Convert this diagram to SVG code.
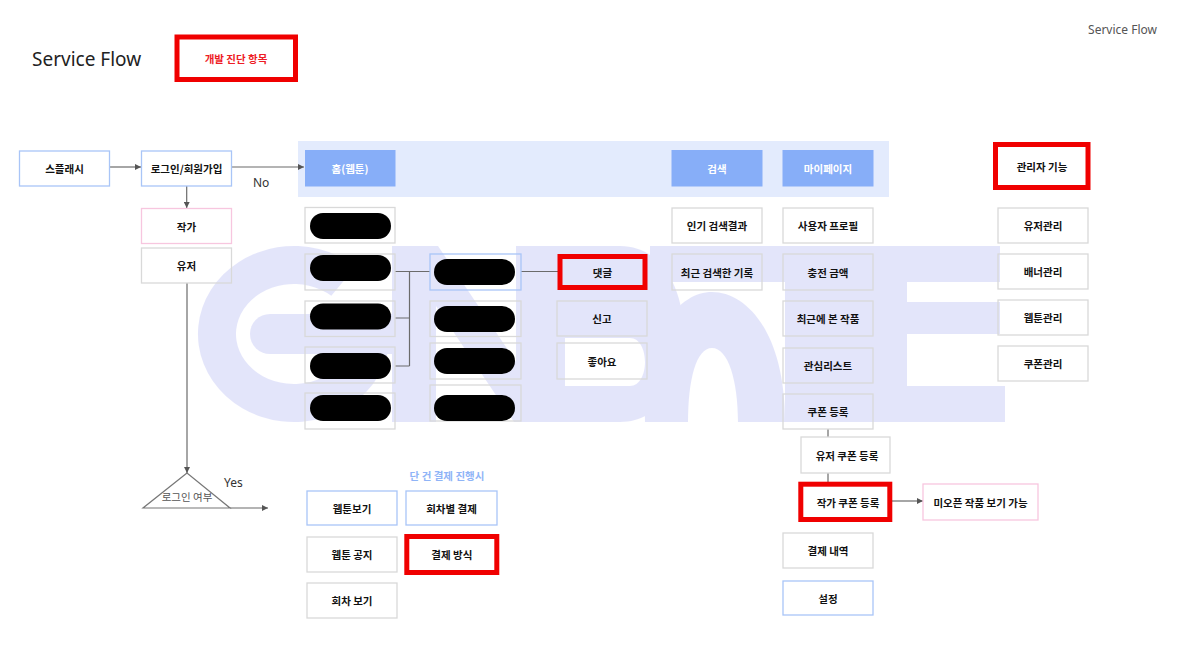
<svg xmlns="http://www.w3.org/2000/svg" width="1200" height="659" viewBox="0 0 1200 659">
<defs>
<style>
.box{fill:none;stroke:#d9d9d9;stroke-width:1.3}
.blue{stroke:#a9c5f7}
.pink{stroke:#f7c6df}
.red{fill:none;stroke:#f00000;stroke-width:5}
.t{font-family:"Noto Sans CJK KR","Noto Sans",sans-serif;font-size:10.5px;font-weight:700;fill:#111111;text-anchor:middle;dominant-baseline:central}
.tw{fill:#ffffff}
.hb{fill:#87aef8}
.pill{fill:#000000}
.ln{stroke:#6b6b6b;stroke-width:1.2;fill:none}
.lbl{font-family:"Noto Sans","Liberation Sans",sans-serif;font-size:12px;fill:#333}
</style>
<marker id="ah" markerWidth="6" markerHeight="6" refX="6" refY="3" orient="auto" markerUnits="userSpaceOnUse">
<path d="M0,0 L6,3 L0,6 Z" fill="#555"/>
</marker>
</defs>
<rect width="1200" height="659" fill="#ffffff"/>

<g id="watermark" fill="#5a63e6" opacity="0.16">
<path d="M355.7,266.6 A96,88 0 1 0 388.5,349.3 L351.1,342.7 A58,50 0 1 1 331.3,295.7 Z"/>
<path d="M250,334 a20,20 0 0 1 20,-20 H392 V354 H270 a20,20 0 0 1 -20,-20 Z"/>
<polygon points="392,246 438,246 516,362 516,246 560,246 560,422 514,422 436,306 436,422 392,422"/>
<path fill-rule="evenodd" d="M560,246 H620 C705,246 705,422 620,422 H560 Z M565,338 H630 C650,338 650,386 630,386 H565 Z"/>
<path d="M650,246 H790 V282 H650 Z"/>
<path d="M645,422 C645,330 680,292 712,292 C745,292 785,330 785,422 H738 C738,380 728,348 712,348 C696,348 688,380 688,422 Z"/>
<path d="M785,246 H1000 V282 H907 V302 H1000 V334 H907 V386 H1005 V422 H785 Z"/>
</g>

<g id="header">
<text x="32" y="66" font-family="Noto Sans, Liberation Sans, sans-serif" font-size="19" fill="#222">Service Flow</text>
<text x="1157" y="34" text-anchor="end" font-family="Noto Sans, Liberation Sans, sans-serif" font-size="12" fill="#555">Service Flow</text>
</g>
<g id="legend">
<rect class="red" x="177" y="37" width="118.5" height="42.5" stroke-width="5.5"/>
<text class="t" x="236" y="58" style="fill:#ee1c25">개발 진단 항목</text>
</g>

<g id="home-band">
<rect x="298" y="141" width="591" height="56" fill="#e3ebfd"/>
</g>

<g id="connectors">
<line class="ln" x1="110" y1="167" x2="141" y2="167" marker-end="url(#ah)"/>
<line class="ln" x1="232" y1="167" x2="304" y2="167" marker-end="url(#ah)"/>
<line class="ln" x1="186.7" y1="186" x2="186.7" y2="208" marker-end="url(#ah)"/>
<line class="ln" x1="187" y1="283" x2="187" y2="473" marker-end="url(#ah)"/>
<line class="ln" x1="230" y1="508" x2="268" y2="508" marker-end="url(#ah)"/>
<path class="ln" d="M395,271.5 H430 M409.5,271.5 V366 M395,318 H409.5 M395,366 H409.5"/>
<line class="ln" x1="521" y1="271.5" x2="558" y2="271.5"/>
<line class="ln" x1="828" y1="429" x2="828" y2="437"/>
<line class="ln" x1="828" y1="473" x2="828" y2="482"/>
<line class="ln" x1="892" y1="501" x2="923" y2="501" marker-end="url(#ah)"/>
<text class="lbl" x="253" y="187">No</text>
<text class="lbl" x="224" y="487">Yes</text>
</g>

<g id="splash"><rect class="box blue" x="19.5" y="151" width="90" height="35"/><text class="t" x="64.5" y="168.5">스플래시</text></g>
<g id="login"><rect class="box blue" x="141.5" y="151" width="90" height="35"/><text class="t" x="186.5" y="168.5">로그인/회원가입</text></g>
<g id="author"><rect class="box pink" x="141.5" y="208.5" width="90" height="35"/><text class="t" x="186.5" y="226">작가</text></g>
<g id="user"><rect class="box" x="141.5" y="248" width="90" height="35"/><text class="t" x="186.5" y="265.5">유저</text></g>
<g id="login-check">
<polygon points="187,473 143,508 230,508" fill="none" stroke="#777" stroke-width="1.2"/>
<text x="187" y="496" text-anchor="middle" dominant-baseline="central" font-family="Noto Sans CJK KR, sans-serif" font-size="10.5" fill="#555">로그인 여부</text>
</g>

<g id="home"><rect class="hb" x="305" y="150" width="90.5" height="36.5"/><text class="t tw" x="350" y="168.5">홈(웹툰)</text></g>
<g id="search"><rect class="hb" x="671.5" y="150" width="91" height="36.5"/><text class="t tw" x="717" y="168.5">검색</text></g>
<g id="mypage"><rect class="hb" x="782.5" y="150" width="91" height="36.5"/><text class="t tw" x="828" y="168.5">마이페이지</text></g>

<g id="home-item-1"><rect class="box" x="305" y="207.5" width="90" height="35.5"/><rect class="pill" x="310" y="213" width="81" height="26" rx="13"/></g>
<g id="home-item-2"><rect class="box" x="305" y="254" width="90" height="36"/><rect class="pill" x="310" y="255" width="81" height="26" rx="13"/></g>
<g id="home-item-3"><rect class="box" x="305" y="301" width="90" height="35.5"/><rect class="pill" x="310" y="303.5" width="81" height="26" rx="13"/></g>
<g id="home-item-4"><rect class="box" x="305" y="347" width="90" height="36"/><rect class="pill" x="310" y="353" width="81" height="26" rx="13"/></g>
<g id="home-item-5"><rect class="box" x="305" y="393" width="90" height="36"/><rect class="pill" x="310" y="395" width="81" height="26" rx="13"/></g>

<g id="detail-1"><rect class="box blue" x="430" y="254" width="91" height="36"/><rect class="pill" x="434" y="259" width="81" height="26" rx="13"/></g>
<g id="detail-2"><rect class="box" x="430" y="301" width="91" height="35.5"/><rect class="pill" x="434" y="306" width="81" height="26" rx="13"/></g>
<g id="detail-3"><rect class="box" x="430" y="343" width="91" height="36"/><rect class="pill" x="434" y="348" width="81" height="26" rx="13"/></g>
<g id="detail-4"><rect class="box" x="430" y="385" width="91" height="36"/><rect class="pill" x="434" y="395" width="81" height="26" rx="13"/></g>

<g id="comment"><rect class="red" x="560" y="256.5" width="85" height="31"/><text class="t" x="602.5" y="272">댓글</text></g>
<g id="report"><rect class="box" x="557" y="301" width="90" height="35"/><text class="t" x="602" y="318.5">신고</text></g>
<g id="like"><rect class="box" x="557" y="343" width="90" height="36"/><text class="t" x="602" y="361">좋아요</text></g>

<g id="popular"><rect class="box" x="672" y="208" width="90" height="35"/><text class="t" x="717" y="225.5">인기 검색결과</text></g>
<g id="recent-search"><rect class="box" x="672" y="254" width="90" height="36"/><text class="t" x="717" y="272">최근 검색한 기록</text></g>

<g id="profile"><rect class="box" x="783" y="208" width="90" height="35"/><text class="t" x="828" y="225.5">사용자 프로필</text></g>
<g id="charge"><rect class="box" x="783" y="254" width="90" height="36"/><text class="t" x="828" y="272">충전 금액</text></g>
<g id="recent-view"><rect class="box" x="783" y="301" width="90" height="35"/><text class="t" x="828" y="318.5">최근에 본 작품</text></g>
<g id="wishlist"><rect class="box" x="783" y="348" width="90" height="35"/><text class="t" x="828" y="365.5">관심리스트</text></g>
<g id="coupon"><rect class="box" x="783" y="394" width="90" height="35"/><text class="t" x="828" y="411.5">쿠폰 등록</text></g>
<g id="user-coupon"><rect class="box" x="801" y="437" width="89" height="36"/><text class="t" x="847" y="455">유저 쿠폰 등록</text></g>
<g id="author-coupon"><rect class="red" x="800.8" y="484.2" width="89" height="35.3"/><text class="t" x="848" y="502">작가 쿠폰 등록</text></g>
<g id="unopened"><rect class="box pink" x="923" y="484" width="115" height="36"/><text class="t" x="980.5" y="502">미오픈 작품 보기 가능</text></g>
<g id="payment-history"><rect class="box" x="783" y="533" width="90" height="35"/><text class="t" x="828" y="550.5">결제 내역</text></g>
<g id="settings"><rect class="box blue" x="783" y="581" width="90" height="34"/><text class="t" x="828" y="598">설정</text></g>

<g id="admin"><rect class="red" x="995.5" y="144.5" width="92.5" height="43"/><text class="t" x="1042" y="166">관리자 기능</text></g>
<g id="admin-user"><rect class="box" x="998" y="208" width="90" height="35"/><text class="t" x="1043" y="225.5">유저관리</text></g>
<g id="admin-banner"><rect class="box" x="998" y="254" width="90" height="35"/><text class="t" x="1043" y="271.5">배너관리</text></g>
<g id="admin-webtoon"><rect class="box" x="998" y="300" width="90" height="35"/><text class="t" x="1043" y="317.5">웹툰관리</text></g>
<g id="admin-coupon"><rect class="box" x="998" y="346" width="90" height="35"/><text class="t" x="1043" y="363.5">쿠폰관리</text></g>

<g id="single-pay-label"><text class="t" x="447" y="475" style="fill:#8fb4f7">단 건 결제 진행시</text></g>
<g id="view-webtoon"><rect class="box blue" x="307" y="491" width="90" height="34"/><text class="t" x="352" y="508">웹툰보기</text></g>
<g id="episode-pay"><rect class="box blue" x="406" y="491" width="91" height="34"/><text class="t" x="451.5" y="508">회차별 결제</text></g>
<g id="notice"><rect class="box" x="307" y="537" width="90" height="35"/><text class="t" x="352" y="554.5">웹툰 공지</text></g>
<g id="pay-method"><rect class="red" x="406.8" y="536.5" width="90" height="36"/><text class="t" x="451.8" y="554.5">결제 방식</text></g>
<g id="episode-view"><rect class="box" x="307" y="583" width="90" height="35"/><text class="t" x="352" y="600.5">회차 보기</text></g>
</svg>
